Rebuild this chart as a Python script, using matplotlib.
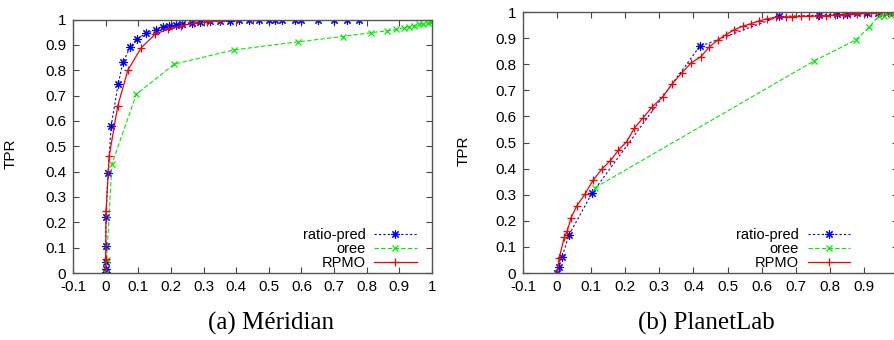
import matplotlib
matplotlib.use("Agg")
import matplotlib.pyplot as plt

# Méridian (a)
mer_ratio_x = [0, 0, 0, 0, 0, 0.001, 0.007, 0.017, 0.038, 0.053, 0.075, 0.097, 0.123, 0.153,
               0.176, 0.195, 0.214, 0.235, 0.264, 0.29, 0.32, 0.35, 0.38, 0.41, 0.44, 0.47,
               0.50, 0.52, 0.54, 0.58, 0.60, 0.65, 0.70, 0.74, 0.776]
mer_ratio_y = [0, 0.005, 0.015, 0.045, 0.105, 0.22, 0.393, 0.581, 0.744, 0.831, 0.891, 0.924,
               0.945, 0.958, 0.969, 0.976, 0.98, 0.984, 0.988, 0.991, 0.993, 0.995, 0.996,
               0.997, 0.998, 0.998, 0.999, 1, 1, 1, 1, 1, 1, 1, 1]
mer_oree_x = [0, 0.003, 0.019, 0.094, 0.21, 0.393, 0.59, 0.727, 0.812, 0.861, 0.891, 0.914,
              0.93, 0.946, 0.961, 0.974, 0.987, 0.997, 1.0]
mer_oree_y = [0, 0.05, 0.43, 0.705, 0.824, 0.88, 0.912, 0.933, 0.948, 0.955, 0.961, 0.968,
              0.972, 0.976, 0.981, 0.984, 0.988, 0.992, 0.995]
mer_rpmo_x = [0, 0, 0.001, 0.011, 0.037, 0.068, 0.109, 0.152, 0.19, 0.23, 0.27, 0.31, 0.35,
              0.40, 0.45]
mer_rpmo_y = [0, 0.055, 0.243, 0.463, 0.659, 0.80, 0.889, 0.942, 0.962, 0.975, 0.985, 0.99,
              0.994, 0.997, 0.999]

# PlanetLab (b)
pl_ratio_x = [0, 0.006, 0.014, 0.035, 0.102, 0.418, 0.651, 0.769, 0.82, 0.85, 0.88, 0.91,
              0.94, 0.97, 0.99]
pl_ratio_y = [0, 0.024, 0.06, 0.146, 0.305, 0.868, 0.983, 0.988, 0.993, 0.993, 0.996, 0.997,
              0.998, 0.999, 1.0]
pl_oree_x = [0.111, 0.753, 0.876, 0.915, 0.943, 0.96, 0.98, 1.0]
pl_oree_y = [0.327, 0.812, 0.893, 0.941, 0.985, 0.986, 0.988, 0.99]
pl_rpmo_x = [0, 0.006, 0.021, 0.03, 0.041, 0.058, 0.081, 0.106, 0.131, 0.156, 0.18, 0.204,
             0.226, 0.251, 0.278, 0.31, 0.337, 0.366, 0.393, 0.422, 0.447, 0.472, 0.494,
             0.518, 0.545, 0.57, 0.592, 0.616, 0.641, 0.67, 0.69, 0.715, 0.74, 0.765, 0.79,
             0.815, 0.84, 0.86, 0.88, 0.90, 0.92, 0.94, 0.96, 0.98, 0.995]
pl_rpmo_y = [0, 0.056, 0.137, 0.162, 0.212, 0.258, 0.301, 0.356, 0.398, 0.43, 0.471, 0.503,
             0.554, 0.593, 0.635, 0.675, 0.724, 0.767, 0.805, 0.829, 0.867, 0.893, 0.912,
             0.931, 0.946, 0.956, 0.966, 0.974, 0.98, 0.981, 0.982, 0.983, 0.984, 0.985,
             0.986, 0.988, 0.99, 0.992, 0.994, 0.996, 0.997, 0.998, 0.999, 1.0, 1.0]

x_ticks = [-0.1, 0, 0.1, 0.2, 0.3, 0.4, 0.5, 0.6, 0.7, 0.8, 0.9, 1]
x_labels = ["-0.1", "0", "0.1", "0.2", "0.3", "0.4", "0.5", "0.6", "0.7", "0.8", "0.9", "1"]
y_ticks = [0, 0.1, 0.2, 0.3, 0.4, 0.5, 0.6, 0.7, 0.8, 0.9, 1]
y_labels = ["0", "0.1", "0.2", "0.3", "0.4", "0.5", "0.6", "0.7", "0.8", "0.9", "1"]

plt.rcParams['font.family'] = ['Liberation Sans', 'DejaVu Sans']

fig = plt.figure(figsize=(8.94, 3.4), dpi=100)
ax1 = fig.add_axes([0.0817, 0.197, 0.4015, 0.7456])
ax2 = fig.add_axes([0.585, 0.197, 0.4195, 0.7676])

asterisk = (8, 2, 0)


def draw(ax, rx, ry, ox, oy, px, py, leg_x, xlabels):
    ax.plot(rx, ry, color='#0000ff', lw=0.8, ls=(0, (2, 2)), marker=asterisk,
            ms=6, mew=0.8, label='ratio-pred')
    ax.plot(ox, oy, color='#00ee00', lw=0.8, ls=(0, (4, 2)), marker='x',
            ms=4, mew=0.9, label='oree')
    ax.plot(px, py, color='#ff0000', lw=0.9, ls='-', marker='+',
            ms=6, mew=0.9, label='RPMO')
    ax.set_xlim(-0.1, 1)
    ax.set_ylim(0, 1)
    ax.set_xticks(x_ticks)
    ax.set_xticklabels(xlabels)
    ax.set_yticks(y_ticks)
    ax.set_yticklabels(y_labels)
    ax.tick_params(direction='in', length=4, width=0.8, color='#444444',
                   labelsize=11, top=True, right=True, pad=5)
    for s in ax.spines.values():
        s.set_color('#555555')
        s.set_linewidth(1.0)
    ax.set_ylabel('TPR', fontsize=11)
    ax.legend(loc='lower right', bbox_to_anchor=(leg_x, 0.0), markerfirst=False,
              frameon=False, numpoints=1, fontsize=10.5, handlelength=2.9,
              handletextpad=0.6, labelspacing=0.0, borderpad=0.2, borderaxespad=0)


draw(ax1, mer_ratio_x, mer_ratio_y, mer_oree_x, mer_oree_y, mer_rpmo_x, mer_rpmo_y,
     0.965, x_labels)
# the last "1" of panel (b) falls outside the cropped picture
draw(ax2, pl_ratio_x, pl_ratio_y, pl_oree_x, pl_oree_y, pl_rpmo_x, pl_rpmo_y,
     0.88, x_labels[:-1] + [""])
ax1.yaxis.set_label_coords(-0.155, 0.47)
ax2.yaxis.set_label_coords(-0.14, 0.47)

fig.text(0.303, 0.05, '(a) Méridian', ha='center', va='center', fontsize=18,
         family=['Liberation Serif', 'DejaVu Serif'])
fig.text(0.79, 0.05, '(b) PlanetLab', ha='center', va='center', fontsize=18,
         family=['Liberation Serif', 'DejaVu Serif'])

fig.savefig('out.png', dpi=100)
